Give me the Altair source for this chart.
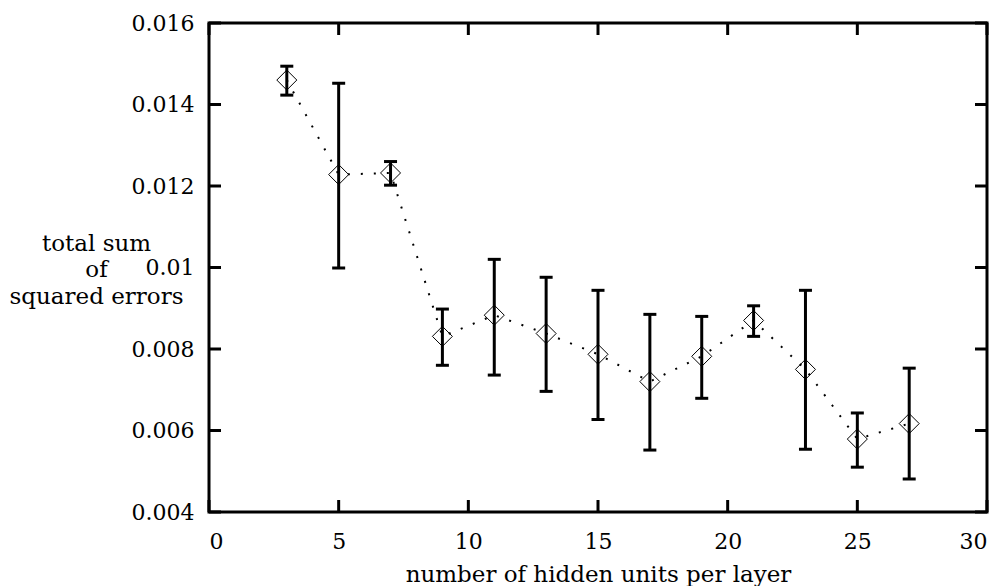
import altair as alt
import pandas as pd

# Mean total sum of squared errors with its spread, per network size
hidden_units = [3, 5, 7, 9, 11, 13, 15, 17, 19, 21, 23, 25, 27]
sse_mean = [0.01460, 0.01228, 0.01232, 0.00831, 0.00883, 0.00838, 0.00787,
            0.00720, 0.00782, 0.00870, 0.00750, 0.00579, 0.00617]
sse_low = [0.01423, 0.00999, 0.01202, 0.00760, 0.00736, 0.00696, 0.00627,
           0.00552, 0.00679, 0.00831, 0.00554, 0.00510, 0.00481]
sse_high = [0.01494, 0.01452, 0.01260, 0.00898, 0.01020, 0.00976, 0.00944,
            0.00885, 0.00880, 0.00906, 0.00944, 0.00643, 0.00753]

x_ticks = [0, 5, 10, 15, 20, 25, 30]
y_ticks = [0.004, 0.006, 0.008, 0.010, 0.012, 0.014, 0.016]

W, H = 778, 489
FONT = "DejaVu Serif"
TICK_LEN = 12

df = pd.DataFrame({"units": hidden_units, "sse": sse_mean,
                   "lo": sse_low, "hi": sse_high})
xt = pd.DataFrame({"v": x_ticks})
yt = pd.DataFrame({"v": y_ticks})

xscale = alt.Scale(domain=[0, 30], nice=False, zero=False)
yscale = alt.Scale(domain=[0.004, 0.016], nice=False, zero=False)

x_axis = alt.Axis(values=x_ticks, format="d", domain=False, ticks=False, tickSize=0,
                  grid=False, labelFont=FONT, labelFontSize=22, labelColor="black",
                  labelBaseline="alphabetic", labelPadding=36,
                  title="number of hidden units per layer", titleFont=FONT,
                  titleFontSize=23, titleFontWeight="normal", titleColor="black",
                  titleBaseline="alphabetic", titleX=W / 2, titleY=69)
y_axis = alt.Axis(values=y_ticks, format="~g", domain=False, ticks=False, tickSize=0,
                  grid=False, labelFont=FONT, labelFontSize=22, labelColor="black",
                  labelPadding=15,
                  title=["total sum", "of", "squared errors"], titleFont=FONT,
                  titleFontSize=23, titleFontWeight="normal", titleColor="black",
                  titleAngle=0, titleAlign="center", titleBaseline="alphabetic",
                  titleLineHeight=26.5, titleX=96 - 209, titleY=227)


def X(field):
    return alt.X(field, type="quantitative", scale=xscale, axis=x_axis)


def Y(field):
    return alt.Y(field, type="quantitative", scale=yscale, axis=y_axis)


base = alt.Chart(df)

line = base.mark_line(color="black", strokeWidth=2, strokeDash=[2, 11],
                      strokeCap="butt").encode(x=X("units"), y=Y("sse"))

bars = base.mark_rule(color="black", strokeWidth=3).encode(
    x=X("units"), y=Y("lo"), y2="hi:Q")

cap_hi = base.mark_tick(color="black", orient="horizontal", size=13,
                        thickness=3, opacity=1).encode(x=X("units"), y=Y("hi"))
cap_lo = base.mark_tick(color="black", orient="horizontal", size=13,
                        thickness=3, opacity=1).encode(x=X("units"), y=Y("lo"))

points = base.mark_point(shape="diamond", size=400, filled=False,
                         color="black", strokeWidth=1, opacity=1).encode(
    x=X("units"), y=Y("sse"))

# Inward ticks on all four sides of the frame
tick_bottom = alt.Chart(xt).mark_rule(color="black", strokeWidth=3).encode(
    x=X("v"), y=alt.value(H), y2=alt.value(H - TICK_LEN))
tick_top = alt.Chart(xt).mark_rule(color="black", strokeWidth=3).encode(
    x=X("v"), y=alt.value(0), y2=alt.value(TICK_LEN))
tick_left = alt.Chart(yt).mark_rule(color="black", strokeWidth=3).encode(
    y=Y("v"), x=alt.value(0), x2=alt.value(TICK_LEN))
tick_right = alt.Chart(yt).mark_rule(color="black", strokeWidth=3).encode(
    y=Y("v"), x=alt.value(W), x2=alt.value(W - TICK_LEN))

chart = alt.layer(
    line, bars, cap_hi, cap_lo, points,
    tick_bottom, tick_top, tick_left, tick_right,
).properties(
    width=W, height=H,
    autosize=alt.AutoSizeParams(type="none"),
    padding={"left": 209, "top": 23, "right": 17, "bottom": 74},
    background="white",
).configure_view(stroke="black", strokeWidth=3)

chart.save("out.html", embed_options={"renderer": "svg", "actions": False})
